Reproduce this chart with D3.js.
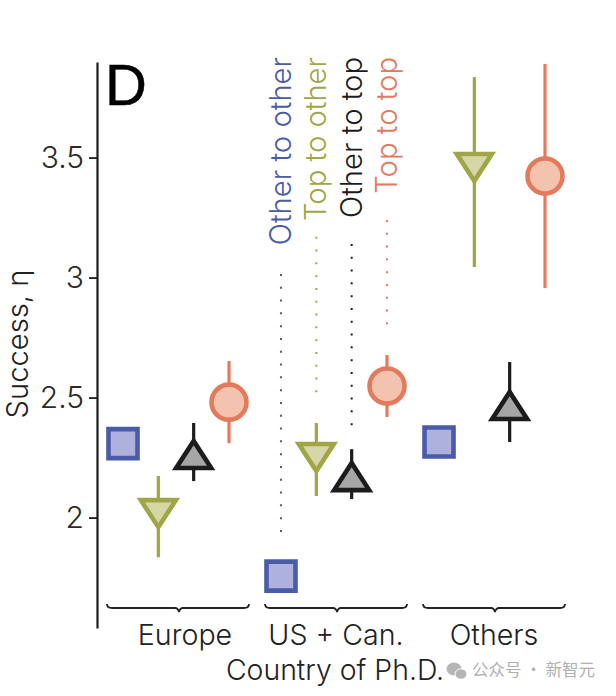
<!DOCTYPE html>
<html><head><meta charset="utf-8">
<script src="https://cdn.jsdelivr.net/npm/d3@7"></script>
<style>html,body{margin:0;background:#fff}svg{display:block}</style>
</head><body><svg id="c" width="616" height="696" font-family="Inter, 'Noto Sans', sans-serif"></svg>
<script>
const groups = ["Europe","US + Can.","Others"];
const series = ["Other to other","Top to other","Other to top","Top to top"];
const strokes = ["#4a5ba8","#a0a645","#1c1c1c","#e47a5c"];
const fills = ["#adb1dc","#d6d6a8","#a6a6a6","#f4c3b0"];
const means = [[2.308,2.006,2.269,2.481],[1.756,2.24,2.177,2.548],[2.315,3.448,2.473,3.423]];
const lows  = [[null,1.835,2.152,2.31],[null,2.09,2.077,2.419],[null,3.044,2.315,2.956]];
const highs = [[null,2.173,2.394,2.652],[null,2.394,2.285,2.677],[null,3.835,2.648,3.89]];
const dotTop = [3.015,3.17,3.14,3.24];
const dotBottom = [1.92,2.5,2.38,2.78];
const yTicks = [2,2.5,3,3.5];
const yTickLabels = ["2","2.5","3","3.5"];

const svg = d3.select("#c");
const y = d3.scaleLinear().domain([1.54,3.898]).range([628,62]);
const x0 = d3.scalePoint().domain(groups).range([123,439]);
const x1 = d3.scalePoint().domain(series).range([0,106]);

const triDown = {draw(c){c.moveTo(-17.5,-16);c.lineTo(17.5,-16);c.lineTo(0,11);c.closePath();}};
const triUp   = {draw(c){c.moveTo(-17.5,15);c.lineTo(17.5,15);c.lineTo(0,-12);c.closePath();}};
const shapes = [
  d3.symbol().type(d3.symbolSquare).size(29*29),
  d3.symbol().type(triDown),
  d3.symbol().type(triUp),
  d3.symbol().type(d3.symbolCircle).size(Math.PI*17.5*17.5)
];

const ax = svg.append("g").attr("transform","translate(97,0)")
  .call(d3.axisLeft(y).tickValues(yTicks).tickFormat((d,i)=>yTickLabels[i]).tickSize(8).tickPadding(5).tickSizeOuter(0));
ax.select(".domain").attr("stroke","#1c1c1c").attr("stroke-width",2.2);
ax.selectAll(".tick line").attr("stroke","#1c1c1c").attr("stroke-width",1.8);
ax.selectAll(".tick text").attr("font-size",30).attr("fill","#2a2a2a").style("font-family","Inter").style("font-weight",300);

series.forEach((s,i)=>{
  const xp = x0(groups[1])+x1(s);
  svg.append("line").attr("x1",xp).attr("x2",xp).attr("y1",y(dotTop[i])).attr("y2",y(dotBottom[i]))
    .attr("stroke",strokes[i]).attr("stroke-width",2).attr("stroke-dasharray","2 10.8");
  svg.append("text").attr("transform",`translate(${xp+10},57) rotate(-90)`).attr("text-anchor","end")
    .attr("font-size",29.2).style("font-weight",300).attr("fill",strokes[i]).text(s);
});

groups.forEach((g,gi)=>series.forEach((s,si)=>{
  const xp = x0(g)+x1(s);
  if(lows[gi][si]!=null){
    svg.append("line").attr("x1",xp).attr("x2",xp).attr("y1",y(lows[gi][si])).attr("y2",y(highs[gi][si]))
      .attr("stroke",strokes[si]).attr("stroke-width",3.2);
  }
  svg.append("path").attr("d",shapes[si]()).attr("transform",`translate(${xp},${y(means[gi][si])})`)
    .attr("fill",fills[si]).attr("stroke",strokes[si]).attr("stroke-width",4.6);
}));

const labelOffset = [62,55,55];
groups.forEach((g,i)=>{
  const a = x0(g)-16, b = x0(g)+126, m = (a+b)/2+1, t=604;
  svg.append("path").attr("d",`M${a},${t} Q${a},${t+4} ${a+5},${t+4} L${m-4},${t+4} Q${m-1},${t+4} ${m},${t+8} Q${m+1},${t+4} ${m+4},${t+4} L${b-5},${t+4} Q${b},${t+4} ${b},${t}`)
    .attr("fill","none").attr("stroke","#222").attr("stroke-width",1.8);
  svg.append("text").attr("x",x0(g)+labelOffset[i]).attr("y",645).attr("text-anchor","middle")
    .attr("font-size",28.6).style("font-weight",300).attr("fill","#222").text(g);
});

svg.append("text").attr("x",335).attr("y",680).attr("text-anchor","middle").attr("font-size",28.4).style("font-weight",300).attr("fill","#222").text("Country of Ph.D.");
svg.append("text").attr("transform","translate(28,344) rotate(-90)").attr("text-anchor","middle").attr("font-size",29.2).style("font-weight",300).attr("fill","#222").text("Success, η");
svg.append("text").attr("x",105).attr("y",105).attr("font-size",58).attr("stroke","#000").attr("stroke-width",0.5).style("font-family","'Liberation Sans'").attr("fill","#000").text("D");

const wm = svg.append("g").attr("fill","#b5b5b5");
wm.append("ellipse").attr("cx",454).attr("cy",669).attr("rx",7.5).attr("ry",6.5);
wm.append("ellipse").attr("cx",461).attr("cy",674).attr("rx",6).attr("ry",5.2).attr("stroke","#fff").attr("stroke-width",1);
svg.append("text").attr("x",472).attr("y",676).attr("font-size",16.5).attr("fill","#b0b0b0")
  .style("font-family","'Noto Sans CJK SC'").text("公众号 · 新智元");
</script></body></html>
